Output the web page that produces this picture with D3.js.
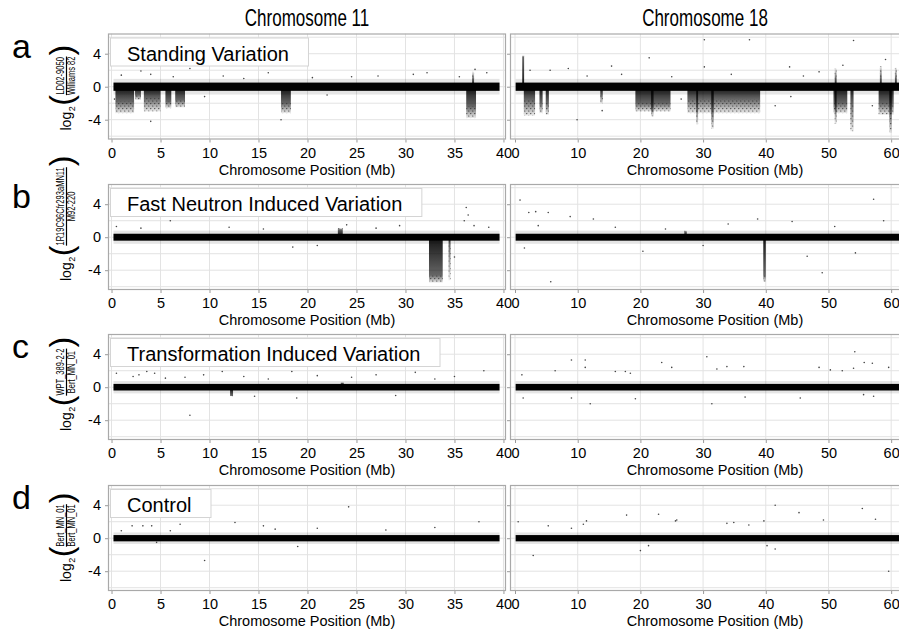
<!DOCTYPE html>
<html>
<head>
<meta charset="utf-8">
<script src="https://cdn.jsdelivr.net/npm/d3@7"></script>
<style>
body { margin: 0; background: #fff; }
text { font-family: "Liberation Sans", Arial, Helvetica, sans-serif; }
</style>
</head>
<body>
<svg width="899" height="630"></svg>
<script>
// ---- data ----
var columnTitles = ['Chromosome 11', 'Chromosome 18'];
var chr11Ticks = [0, 5, 10, 15, 20, 25, 30, 35, 40];
var chr18Ticks = [0, 10, 20, 30, 40, 50, 60];
var yTicks = [-4, 0, 4];
var yGrid = [-6, -4, -2, 0, 2, 4, 6];

var panelLetters = ['a', 'b', 'c', 'd'];
var panelTitles = ['Standing Variation', 'Fast Neutron Induced Variation', 'Transformation Induced Variation', 'Control'];
var numerators = ['LD02-9050', '1R19C96Cfr293aMN11', 'WPT_389-2-2', 'Bert_MN_01'];
var denominators = ['Williams 82', 'M92-220', 'Bert_MN_01', 'Bert_MN_01'];

// extent of the sequenced positions (Mb)
var chr11Extent = [0.2, 39.6];
var chr18Extent = [0.1, 64.5];
// spread of the log2 ratio around zero: dense core and sparse fringe
var bandCore = [0.5, 0.42, 0.4, 0.38];
var bandFringe = [0.95, 0.8, 0.75, 0.7];

// copy number regions: [start Mb, end Mb, dense to, sparse to]
var dipsA11 = [[0.4, 2.3, -1.8, -3.2], [2.4, 3.0, -1.0, -1.6], [3.3, 5.0, -1.4, -3.0], [5.5, 6.1, -1.8, -2.6],
  [6.5, 7.5, -1.6, -2.5], [17.3, 18.3, -2.0, -3.2], [36.2, 37.2, -2.4, -3.8], [36.8, 37.0, 0.9, 1.8]];
var dipsA18 = [[1.15, 1.45, 3.6, 3.8], [1.4, 3.2, -1.6, -3.5], [3.9, 4.4, -2.0, -3.2], [4.9, 5.4, -2.0, -3.4],
  [13.6, 14.0, -1.0, -2.0], [19.2, 24.8, -2.0, -3.0], [21.7, 22.1, -2.6, -3.6], [27.5, 39.1, -1.5, -3.2],
  [28.9, 29.2, -2.4, -4.6], [31.3, 31.7, -3.0, -5.1], [50.8, 53.0, -2.0, -3.2], [51.0, 51.3, -2.6, -4.5],
  [53.5, 54.0, -2.0, -5.4], [58.0, 60.4, -2.0, -3.4], [59.7, 60.1, -3.0, -5.6], [51.0, 51.3, 1.0, 2.2],
  [58.2, 58.5, 1.0, 2.5], [60.6, 60.9, 1.0, 2.3]];
var dipsB11 = [[23.1, 23.6, 0.9, 1.1], [32.4, 33.8, -4.6, -5.5], [34.4, 34.6, -0.8, -5.2]];
var dipsB18 = [[27.0, 27.4, 0.6, 0.8], [39.6, 40.0, -4.6, -5.4]];
var dipsC11 = [[12.1, 12.4, -1.0, -1.1], [23.4, 23.7, 0.5, 0.6]];
var dipsC18 = [];
var dipsD11 = [];
var dipsD18 = [];

// isolated points: [Mb, log2 ratio]
var ptsA11 = [[4.0, -4.2], [17.3, -4.0], [8.0, 2.2], [3.0, 1.9], [4.0, 1.5], [16.0, 1.7], [11.4, 1.3], [32.2, 1.7],
  [37.1, 2.1], [30.8, 1.5], [38.3, 1.7], [20.5, 1.1], [27.2, 1.3], [1.0, 1.4], [6.3, 1.2], [13.5, 1.0],
  [24.5, 1.2], [35.5, 1.2], [9.5, -1.2], [22, -1.0], [0.3, -1.5]];
var ptsA18 = [[21.4, 3.5], [15.4, 2.5], [8.5, 2.2], [5.6, 2.0], [9.9, -4.0], [13.9, -2.9], [30.2, 5.7], [37.4, 5.7],
  [54, 5.6], [43.8, 2.4], [30.2, 2.4], [59.1, 3.3], [52.3, 2.6], [41.5, -2.3], [57, -2.3], [2.4, 2.0],
  [11.5, 1.3], [17, 1.5], [25, 1.2], [34.5, 1.5], [46, 1.3], [48.5, 1.8], [26.5, -1.5], [44, -1.2]];
var ptsB11 = [[29.4, 1.4], [36.2, 3.6], [36.4, 2.7], [36, 2.0], [37, 1.4], [35, -2.4], [8.0, 2.6], [6.0, 2.0],
  [18.5, -1.2], [0.5, 1.3], [3, 1.1], [12, 1.2], [15.5, 1.0], [21, -1.0], [27, 1.1], [24, 1.5], [38.5, 1.2]];
var ptsB18 = [[0.8, 4.5], [2.2, 3.0], [3.3, 3.1], [5.3, 3.0], [5.7, -5.4], [3.7, 1.4], [8.8, 2.5], [57.2, 4.6],
  [58.8, 2.0], [49, -4.3], [38.7, 2.2], [46.6, -2.3], [44.2, 1.9], [54.3, -1.9], [12.5, 2.2], [34, 1.6],
  [20.4, -1.7], [1.5, -1.3], [16, 1.2], [24, 1.0], [30, -1.0], [51, 1.3]];
var ptsC11 = [[8.0, -3.4], [3.6, 1.9], [11.3, 1.9], [0.5, 1.7], [2.2, 1.3], [4.4, 1.7], [9.4, 1.5], [18.4, 1.9],
  [18.9, -1.3], [2.8, 1.5], [5.5, 1.1], [7.5, 1.2], [13.5, 1.3], [16, 1.0], [21, 1.4], [24.5, 1.2], [27, 1.5],
  [31, 1.8], [35, 1.3], [38, 2.0], [33, 1.0], [29, -1.0], [14.6, -1.1]];
var ptsC18 = [[9.0, 3.3], [11.2, 3.3], [11.2, 2.4], [23.4, 3.0], [25, 2.4], [30.6, 3.7], [32.2, 2.2], [33.8, 2.5],
  [36.5, 2.5], [54.2, 4.3], [55.7, 3.0], [57, 2.9], [48.5, 2.4], [54, 2.3], [59.6, 2.4], [12, -2.0], [31.4, -2.0],
  [9, -1.3], [19.2, -1.4], [45.5, -1.3], [36.7, -1.2], [6.4, 2.0], [16, 1.9], [17.6, 1.9], [18.4, 1.7], [1.1, 1.5],
  [52.2, 2.0], [50.3, 2.1], [57.2, -1.1], [55.6, -0.9], [1.3, -1.3]];
var ptsD11 = [[9.5, -2.7], [12.6, 1.9], [7, 1.7], [2.1, 1.5], [3.2, 1.5], [4.1, 1.5], [4.6, -0.5], [15.5, 1.5],
  [16.7, 1.1], [6.0, 0.9], [24.2, 3.8], [37.5, 2.0], [21, 1.2], [28, 1.0], [33, 1.3], [19, -1.0], [1, 0.9]];
var ptsD18 = [[0.5, 2.0], [2.9, -2.1], [17.8, 2.8], [22.9, 2.9], [25.8, 2.2], [20, -1.5], [21.3, -0.9], [41.5, 4.0],
  [45.3, 3.1], [55.4, 3.6], [49.2, 2.2], [57.5, 2.3], [59.6, -4.0], [40.2, -0.9], [41.5, -1.3], [39.7, 2.1],
  [11.4, 2.1], [10.9, 1.7], [9, 1.2], [5.3, 1.5], [25.6, 2.1], [33.8, 1.8], [34.9, 1.9], [37.3, 1.6]];

var dips = [[dipsA11, dipsA18], [dipsB11, dipsB18], [dipsC11, dipsC18], [dipsD11, dipsD18]];
var points = [[ptsA11, ptsA18], [ptsB11, ptsB18], [ptsC11, ptsC18], [ptsD11, ptsD18]];

// ---- layout ----
var svg = d3.select('svg');
var panelTops = [33.5, 184, 334, 485];
var panelH = 106;
var columns = [
  {x0: 108, x1: 506, domain: [-0.36, 40.26], ticks: chr11Ticks, extent: chr11Extent, center: 307, head: 307},
  {x0: 510, x1: 920, domain: [-0.8, 64.6], ticks: chr18Ticks, extent: chr18Extent, center: 715, head: 705}
];

var defs = svg.append('defs');
var sparse = defs.append('pattern').attr('id', 'sparse').attr('patternUnits', 'userSpaceOnUse')
  .attr('width', 4).attr('height', 5);
[[0.8, 1.0], [2.8, 3.6]].forEach(function(p) {
  sparse.append('circle').attr('cx', p[0]).attr('cy', p[1]).attr('r', 0.55).attr('fill', '#222');
});

// column headings, set narrow like the original
columns.forEach(function(col, c) {
  svg.append('text')
    .attr('transform', 'translate(' + col.head + ',26) scale(0.74,1)')
    .attr('text-anchor', 'middle')
    .style('font-size', '23px')
    .text(columnTitles[c]);
});

var gradCount = 0;

panelTops.forEach(function(top, i) {
  var y = d3.scaleLinear().domain([-6.4, 6.45]).range([top + panelH, top]);

  columns.forEach(function(col, c) {
    var x = d3.scaleLinear().domain(col.domain).range([col.x0, col.x1]);
    var clipId = 'clip' + i + c;
    defs.append('clipPath').attr('id', clipId)
      .append('rect').attr('x', col.x0).attr('y', top).attr('width', col.x1 - col.x0).attr('height', panelH);

    var g = svg.append('g').attr('clip-path', 'url(#' + clipId + ')');
    g.append('rect').attr('x', col.x0).attr('y', top).attr('width', col.x1 - col.x0).attr('height', panelH)
      .attr('fill', '#fff');

    g.selectAll('.vg').data(col.ticks).enter().append('line')
      .attr('x1', function(d) { return x(d); }).attr('x2', function(d) { return x(d); })
      .attr('y1', top).attr('y2', top + panelH)
      .attr('stroke', '#e3e3e3').attr('stroke-width', 1);
    g.selectAll('.hg').data(yGrid).enter().append('line')
      .attr('x1', col.x0).attr('x2', col.x1)
      .attr('y1', function(d) { return y(d); }).attr('y2', function(d) { return y(d); })
      .attr('stroke', '#e3e3e3').attr('stroke-width', 1);

    var dd = dips[i][c];
    // each region fades from dense near zero to sparse at its far end
    dd.forEach(function(d) {
      var id = 'fade' + (gradCount++);
      var frac = Math.abs(d[2] / d[3]);
      var up = d[3] > 0;
      var gr = defs.append('linearGradient').attr('id', id)
        .attr('x1', 0).attr('y1', up ? 1 : 0).attr('x2', 0).attr('y2', up ? 0 : 1);
      gr.append('stop').attr('offset', 0).attr('stop-color', '#000').attr('stop-opacity', 0.92);
      gr.append('stop').attr('offset', frac).attr('stop-color', '#000').attr('stop-opacity', 0.6);
      gr.append('stop').attr('offset', 1).attr('stop-color', '#000').attr('stop-opacity', 0.08);
      d.fill = id;
    });
    g.selectAll('.dip').data(dd).enter().append('rect')
      .attr('x', function(d) { return x(d[0]); })
      .attr('width', function(d) { return Math.max(1.5, x(d[1]) - x(d[0])); })
      .attr('y', function(d) { return y(Math.max(0, d[3])); })
      .attr('height', function(d) { return Math.abs(y(d[3]) - y(0)); })
      .attr('fill', function(d) { return 'url(#' + d.fill + ')'; });
    g.selectAll('.tail').data(dd).enter().append('rect')
      .attr('x', function(d) { return x(d[0]); })
      .attr('width', function(d) { return Math.max(1.5, x(d[1]) - x(d[0])); })
      .attr('y', function(d) { return y(Math.max(d[2], d[3])); })
      .attr('height', function(d) { return Math.abs(y(d[3]) - y(d[2])); })
      .attr('fill', 'url(#sparse)');

    // fringe and core of the ratio band
    g.append('rect')
      .attr('x', x(col.extent[0])).attr('width', x(col.extent[1]) - x(col.extent[0]))
      .attr('y', y(bandFringe[i])).attr('height', y(-bandFringe[i]) - y(bandFringe[i]))
      .attr('fill', '#000').attr('opacity', 0.1);
    g.append('rect')
      .attr('x', x(col.extent[0])).attr('width', x(col.extent[1]) - x(col.extent[0]))
      .attr('y', y(bandCore[i])).attr('height', y(-bandCore[i]) - y(bandCore[i]))
      .attr('fill', '#000');

    g.selectAll('.pt').data(points[i][c]).enter().append('circle')
      .attr('cx', function(d) { return x(d[0]); })
      .attr('cy', function(d) { return y(d[1]); })
      .attr('r', 0.8).attr('fill', '#444');

    svg.append('rect').attr('x', col.x0 + 0.5).attr('y', top + 0.5)
      .attr('width', col.x1 - col.x0 - 1).attr('height', panelH - 1)
      .attr('fill', 'none').attr('stroke', '#a9a9a9').attr('stroke-width', 1.2);

    var xAxis = svg.append('g').attr('transform', 'translate(0,' + (top + panelH) + ')')
      .call(d3.axisBottom(x).tickValues(col.ticks).tickSize(3).tickPadding(5));
    var yAxis = svg.append('g').attr('transform', 'translate(' + col.x0 + ',0)')
      .call(d3.axisLeft(y).tickValues(yTicks).tickSize(3).tickPadding(4)
        .tickFormat(c === 0 ? function(d) { return String(d); } : function() { return ''; }));
    [xAxis, yAxis].forEach(function(a) {
      a.select('.domain').remove();
      a.selectAll('line').attr('stroke', '#999');
      a.selectAll('text').attr('fill', '#000').style('font-size', '14.5px')
        .style('font-family', '"Liberation Sans", Arial, sans-serif');
    });

    svg.append('text')
      .attr('x', col.center).attr('y', top + panelH + 35)
      .attr('text-anchor', 'middle')
      .style('font-size', '14.5px')
      .text('Chromosome Position (Mb)');
  });

  // annotation box
  var label = svg.append('text')
    .attr('x', 127).attr('y', top + 27)
    .style('font-size', '20px')
    .text(panelTitles[i]);
  var tw = label.node().getComputedTextLength();
  svg.insert('rect', function() { return label.node(); })
    .attr('x', 110.5).attr('y', top + 4.5).attr('width', tw + 36).attr('height', 28)
    .attr('fill', '#fff').attr('stroke', '#d4d4d4');

  svg.append('text')
    .attr('x', 12).attr('y', top + 24)
    .style('font-size', '34px')
    .text(panelLetters[i]);

  yLabel(top + panelH / 2, numerators[i], denominators[i]);
});

function yLabel(cy, num, den) {
  var g = svg.append('g').attr('transform', 'translate(66,' + (cy + 44) + ') rotate(-90)');
  var cx = 0;
  var lg = g.append('text').attr('x', 0).attr('y', 5).style('font-size', '14px').text('log');
  cx += lg.node().getComputedTextLength();
  g.append('text').attr('x', cx + 0.5).attr('y', 9).style('font-size', '9px').text('2');
  cx += 6;
  var lp = g.append('text').attr('x', cx).attr('y', 5.5).style('font-size', '32px').text('(');
  cx += lp.node().getComputedTextLength();
  var s = 0.72;
  var n = g.append('text').attr('text-anchor', 'middle').style('font-size', '10.5px').text(num);
  var d = g.append('text').attr('text-anchor', 'middle').style('font-size', '10.5px').text(den);
  var fw = Math.max(n.node().getComputedTextLength(), d.node().getComputedTextLength()) * s;
  n.attr('transform', 'translate(' + (cx + fw / 2) + ',-2) scale(' + s + ',1)');
  d.attr('transform', 'translate(' + (cx + fw / 2) + ',9) scale(' + s + ',1)');
  g.append('line').attr('x1', cx).attr('x2', cx + fw).attr('y1', 0.5).attr('y2', 0.5)
    .attr('stroke', '#000').attr('stroke-width', 1.2);
  cx += fw + 1;
  g.append('text').attr('x', cx).attr('y', 5.5).style('font-size', '32px').text(')');
}
</script>
</body>
</html>
